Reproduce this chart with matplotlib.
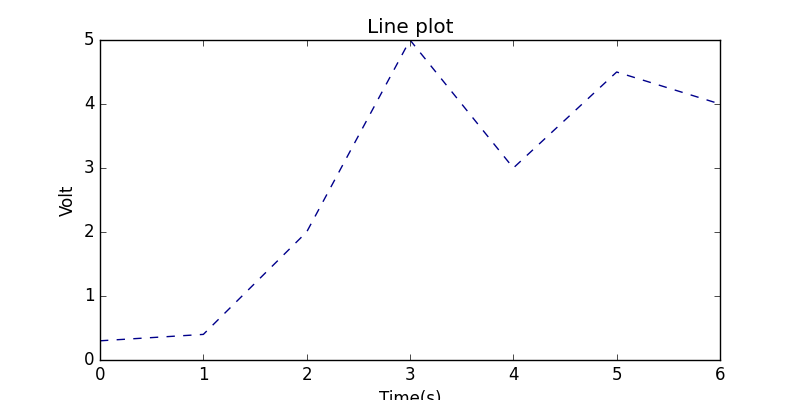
import matplotlib
matplotlib.use("Agg")
import matplotlib.pyplot as plt

plt.style.use("classic")

time_s = [0, 1, 2, 3, 4, 5, 6]
volt = [0.3, 0.4, 2.0, 5.0, 3.0, 4.5, 4.0]

fig = plt.figure(figsize=(8, 4), dpi=100)
fig.patch.set_facecolor("white")
ax = fig.add_axes([0.125, 0.1, 0.775, 0.8])
ax.plot(time_s, volt, linestyle="--", color="darkblue", linewidth=1)
ax.set_title("Line plot")
ax.set_xlabel("Time(s)")
ax.set_ylabel("Volt")
ax.set_xlim(0, 6)
ax.set_ylim(0, 5)
fig.savefig("out.png", dpi=100, facecolor="white")
